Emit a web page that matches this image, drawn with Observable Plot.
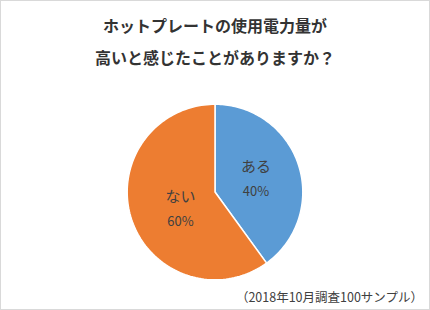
<!DOCTYPE html>
<html><head><meta charset="utf-8">
<script src="https://cdn.jsdelivr.net/npm/d3@7"></script>
<script src="https://cdn.jsdelivr.net/npm/@observablehq/plot@0.6"></script>
<style>
html,body{margin:0;padding:0;background:#fff;}
#wrap{position:relative;width:430px;height:310px;box-sizing:border-box;border:1px solid #d9d9d9;font-family:"Noto Sans CJK JP","Noto Sans",sans-serif;overflow:hidden;}
#title{position:absolute;left:0;top:8px;width:428px;text-align:center;font-size:16px;font-weight:bold;line-height:32px;color:#333;}
#caption{position:absolute;right:6px;top:288px;font-size:12.5px;line-height:16px;color:#404040;}
#chart{position:absolute;left:-1px;top:-1px;}
</style></head>
<body>
<div id="wrap">
  <div id="chart"></div>
  <div id="title">ホットプレートの使用電力量が<br>高いと感じたことがありますか？</div>
  <div id="caption">（2018年10月調査100サンプル）</div>
</div>
<script>
const categories = ["ある", "ない"];
const values = [40, 60];
const percentLabels = ["40%", "60%"];
const colors = ["#5B9BD5", "#ED7D31"];

const W = 430, H = 310, R = 88, CX = 215, CY = 192;

const arcs = d3.pie().sort(null).value(d => d)(values);
const pts = [];
arcs.forEach((a, i) => {
  const cat = categories[i];
  pts.push({cat, x: 0, y: 0});
  const n = 120;
  for (let k = 0; k <= n; k++) {
    const t = a.startAngle + (a.endAngle - a.startAngle) * k / n;
    pts.push({cat, x: Math.sin(t), y: Math.cos(t)});
  }
  pts.push({cat, x: 0, y: 0});
});
const labelRadius = [0.49, 0.44];
const labelAngleShift = [0, -0.15];
const labels = arcs.map((a, i) => {
  const m = (a.startAngle + a.endAngle) / 2 + labelAngleShift[i];
  return {cat: categories[i], pct: percentLabels[i], x: labelRadius[i] * Math.sin(m), y: labelRadius[i] * Math.cos(m)};
});

const chart = Plot.plot({
  width: W, height: H,
  margin: 0,
  x: {domain: [-CX / R, (W - CX) / R], axis: null},
  y: {domain: [-(H - CY) / R, CY / R], axis: null},
  color: {domain: categories, range: colors},
  style: {fontFamily: '"Noto Sans CJK JP","Noto Sans",sans-serif', background: "transparent"},
  marks: [
    Plot.line(pts, {x: "x", y: "y", z: "cat", fill: "cat", stroke: "white", strokeWidth: 1.5, strokeLinejoin: "round", curve: "linear"}),
    Plot.text(labels, {x: "x", y: "y", text: "cat", dy: -12, fontSize: 15, fill: "#404040"}),
    Plot.text(labels, {x: "x", y: "y", text: "pct", dy: 13, fontSize: 13, fill: "#404040"})
  ]
});
document.getElementById("chart").appendChild(chart);
</script>
</body></html>
